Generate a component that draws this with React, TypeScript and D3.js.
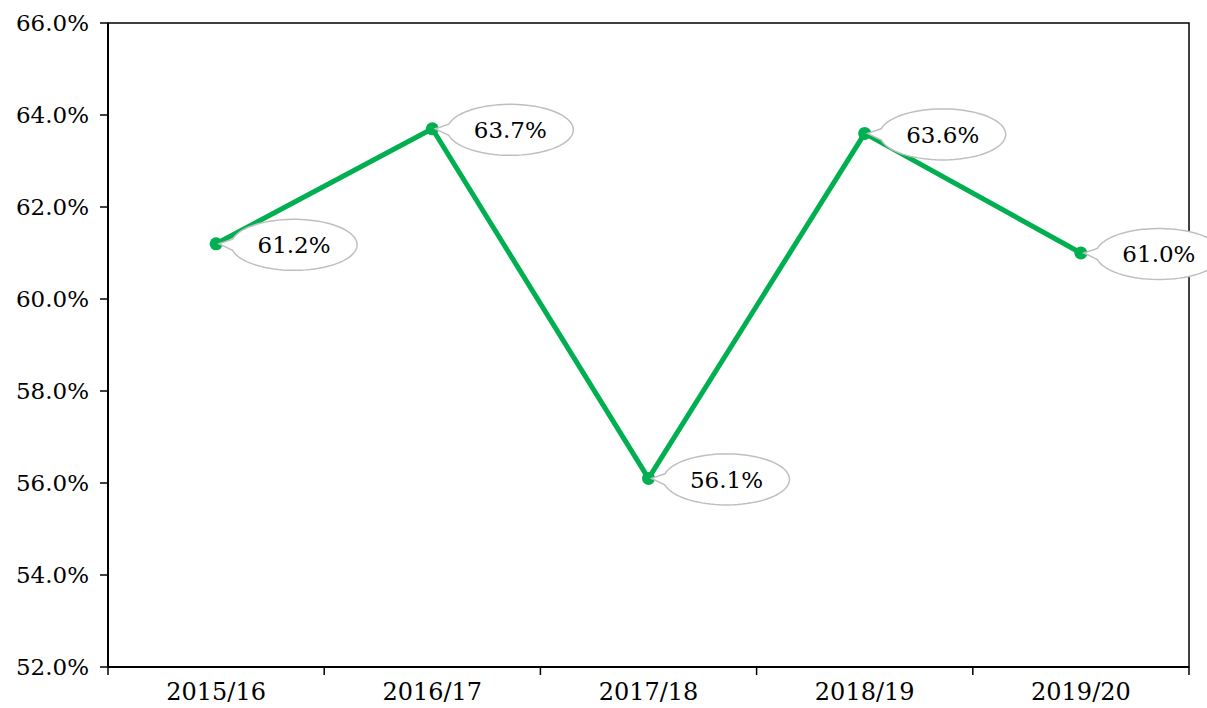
import React from 'react';
import * as d3 from 'd3';

const years = ['2015/16', '2016/17', '2017/18', '2018/19', '2019/20'];
const values = [61.2, 63.7, 56.1, 63.6, 61.0];
const yTicks = [52, 54, 56, 58, 60, 62, 64, 66];

const width = 1207;
const height = 708;
const margin = { top: 23, right: 18, bottom: 41, left: 108 };
const green = '#00b050';

// balloon-shaped callout: ellipse with a wedge pointing back to the point
const calloutPath = (px: number, py: number, cx: number, cy: number, rx: number, ry: number) => {
  const gap = 0.22; // radians around the left side kept open for the wedge
  const pts: [number, number][] = [];
  const steps = 80;
  for (let i = 0; i <= steps; i++) {
    const a = Math.PI + gap + (i / steps) * (2 * Math.PI - 2 * gap);
    pts.push([cx + rx * Math.cos(a), cy + ry * Math.sin(a)]);
  }
  const body = d3.line()(pts) as string;
  return `M${px},${py}L${body.slice(1)}Z`;
};

const App: React.FC = () => {
  const x = d3.scaleBand<string>()
    .domain(years)
    .range([margin.left, width - margin.right]);
  const y = d3.scaleLinear()
    .domain([52, 66])
    .range([height - margin.bottom, margin.top]);

  const cxOf = (d: string) => (x(d) ?? 0) + x.bandwidth() / 2;
  const line = d3.line<number>()
    .x((_, i) => cxOf(years[i]))
    .y(d => y(d));

  const fmt = d3.format('.1f');
  const boundaries = [...years.map(d => x(d) ?? 0), width - margin.right];

  return (
    <svg width={width} height={height} style={{ position: 'absolute', left: 0, top: 0, fontFamily: 'DejaVu Serif, serif' }}>
      <rect x={0} y={0} width={width} height={height} fill="#fff" />
      {/* frame */}
      <rect x={margin.left} y={margin.top} width={width - margin.left - margin.right}
        height={height - margin.top - margin.bottom} fill="none" stroke="#000" strokeWidth={1.5} />
      <line x1={margin.left} x2={width - margin.right} y1={y(52)} y2={y(52)} stroke="#000" strokeWidth={2} />
      <line x1={margin.left} x2={margin.left} y1={margin.top} y2={y(52)} stroke="#000" strokeWidth={2} />

      {/* y axis */}
      {yTicks.map(t => (
        <g key={t}>
          <line x1={margin.left - 8} x2={margin.left} y1={y(t)} y2={y(t)} stroke="#000" strokeWidth={1.5} />
          <text x={margin.left - 19} y={y(t)} dy="0.36em" textAnchor="end" fontSize={23} fill="#000">
            {fmt(t)}%
          </text>
        </g>
      ))}

      {/* x axis */}
      {boundaries.map((b, i) => (
        <line key={i} x1={b} x2={b} y1={y(52)} y2={y(52) + 8} stroke="#000" strokeWidth={1.5} />
      ))}
      {years.map(d => (
        <text key={d} x={cxOf(d)} y={y(52) + 33} textAnchor="middle" fontSize={24} fill="#000">{d}</text>
      ))}

      {/* series */}
      <path d={line(values) ?? ''} fill="none" stroke={green} strokeWidth={5} strokeLinejoin="round" />
      {values.map((v, i) => (
        <circle key={i} cx={cxOf(years[i])} cy={y(v)} r={6.5} fill={green} />
      ))}

      {/* callouts */}
      {values.map((v, i) => {
        const px = cxOf(years[i]) + 3;
        const py = y(v);
        const cx = px + 75;
        const cy = py + 1;
        return (
          <g key={`c${i}`}>
            <path d={calloutPath(px, py, cx, cy, 63, 25.5)} fill="#fff" stroke="#bfbfbf" strokeWidth={1.5} />
            <text x={cx} y={cy} dy="0.36em" textAnchor="middle" fontSize={23} fill="#000">{fmt(v)}%</text>
          </g>
        );
      })}
    </svg>
  );
};

export default App;
